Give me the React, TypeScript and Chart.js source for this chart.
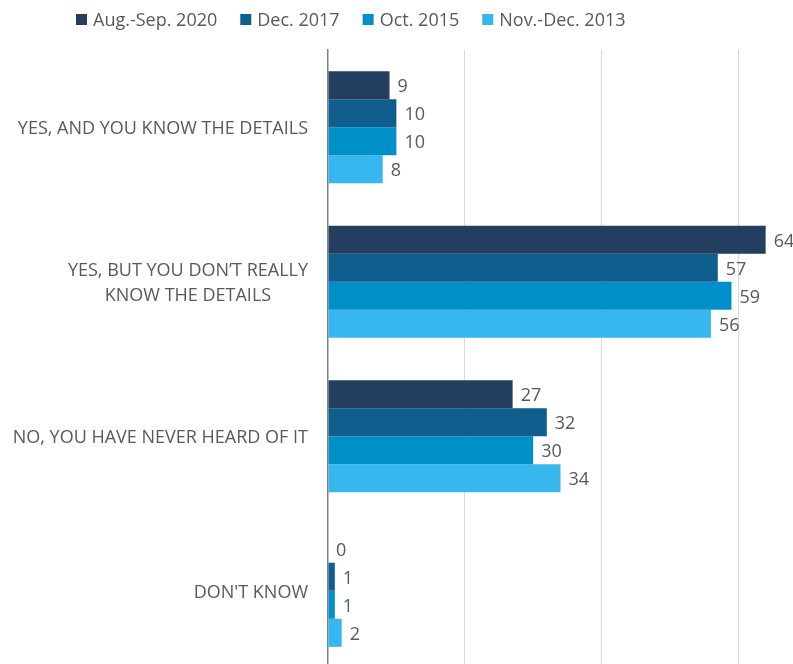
import React, { useEffect, useRef } from 'react';
import { Chart, registerables } from 'chart.js';

Chart.register(...registerables);

const categories: string[][] = [
  ['YES, AND YOU KNOW THE DETAILS'],
  ['YES, BUT YOU DON’T REALLY', 'KNOW THE DETAILS'],
  ['NO, YOU HAVE NEVER HEARD OF IT'],
  ["DON'T KNOW"],
];

const seriesNames: string[] = ['Aug.-Sep. 2020', 'Dec. 2017', 'Oct. 2015', 'Nov.-Dec. 2013'];
const aug2020: number[] = [9, 64, 27, 0];
const dec2017: number[] = [10, 57, 32, 1];
const oct2015: number[] = [10, 59, 30, 1];
const nov2013: number[] = [8, 56, 34, 2];
const seriesColors: string[] = ['#243E5F', '#0F5E8E', '#0090C9', '#38B7EE'];

const FONT = '"Open Sans", "Noto Sans", sans-serif';
const TEXT = '#595959';

const labelPlugin = {
  id: 'customLabels',
  afterDraw(chart: any) {
    const ctx = chart.ctx;
    const yScale = chart.scales.y;
    ctx.save();
    ctx.fillStyle = TEXT;
    ctx.font = `18px ${FONT}`;
    ctx.textBaseline = 'middle';
    // category labels
    categories.forEach((lines, i) => {
      const cy = yScale.getPixelForValue(i);
      const lh = 25;
      const widths = lines.map((l) => ctx.measureText(l).width);
      const maxW = Math.max(...widths);
      const right = 308;
      const center = right - maxW / 2;
      lines.forEach((l, j) => {
        const y = cy + (j - (lines.length - 1) / 2) * lh;
        ctx.textAlign = 'center';
        ctx.fillText(l, center, y + 2);
      });
    });
    // value labels
    ctx.textAlign = 'left';
    chart.data.datasets.forEach((ds: any, di: number) => {
      const meta = chart.getDatasetMeta(di);
      meta.data.forEach((el: any, i: number) => {
        ctx.fillText(String(ds.data[i]), el.x + 8, el.y + 2);
      });
    });
    // legend
    let x = 76;
    const ly = 19;
    seriesNames.forEach((name, i) => {
      ctx.fillStyle = seriesColors[i];
      ctx.fillRect(x, ly - 5, 11, 11);
      x += 11 + 6;
      ctx.fillStyle = TEXT;
      ctx.fillText(name, x, ly + 2);
      x += ctx.measureText(name).width + 23;
    });
    ctx.restore();
  },
};

export default function App() {
  const ref = useRef<HTMLCanvasElement | null>(null);
  useEffect(() => {
    if (!ref.current) return;
    const series = [aug2020, dec2017, oct2015, nov2013];
    const chart = new Chart(ref.current, {
      type: 'bar',
      data: {
        labels: categories,
        datasets: series.map((d, i) => ({
          label: seriesNames[i],
          data: d,
          backgroundColor: seriesColors[i],
          barPercentage: 1,
          categoryPercentage: 0.726,
        })),
      },
      options: {
        indexAxis: 'y',
        animation: false,
        responsive: true,
        maintainAspectRatio: false,
        layout: { padding: { top: 50, right: 0, bottom: 0, left: 0 } },
        plugins: {
          legend: { display: false },
          tooltip: { enabled: false },
        },
        scales: {
          x: {
            min: 0,
            max: 68,
            ticks: { display: false, stepSize: 20 },
            border: { display: false },
            grid: {
              drawTicks: false,
              color: (c: any) =>
                c.tick && c.tick.value > 0 && c.tick.value % 20 === 0 ? '#D9D9D9' : 'rgba(0,0,0,0)',
            },
          },
          y: {
            ticks: { display: false },
            grid: { display: false },
            border: { display: true, color: '#808080', width: 1.5 },
            afterFit: (scale: any) => {
              scale.width = 328;
            },
          },
        },
      },
      plugins: [labelPlugin],
    });
    return () => chart.destroy();
  }, []);
  return (
    <div style={{ position: 'fixed', left: 0, top: 0, width: 793, height: 664, overflow: 'hidden', background: '#fff' }}>
      <div style={{ position: 'relative', width: 793, height: 668 }}>
        <canvas ref={ref} />
      </div>
    </div>
  );
}
